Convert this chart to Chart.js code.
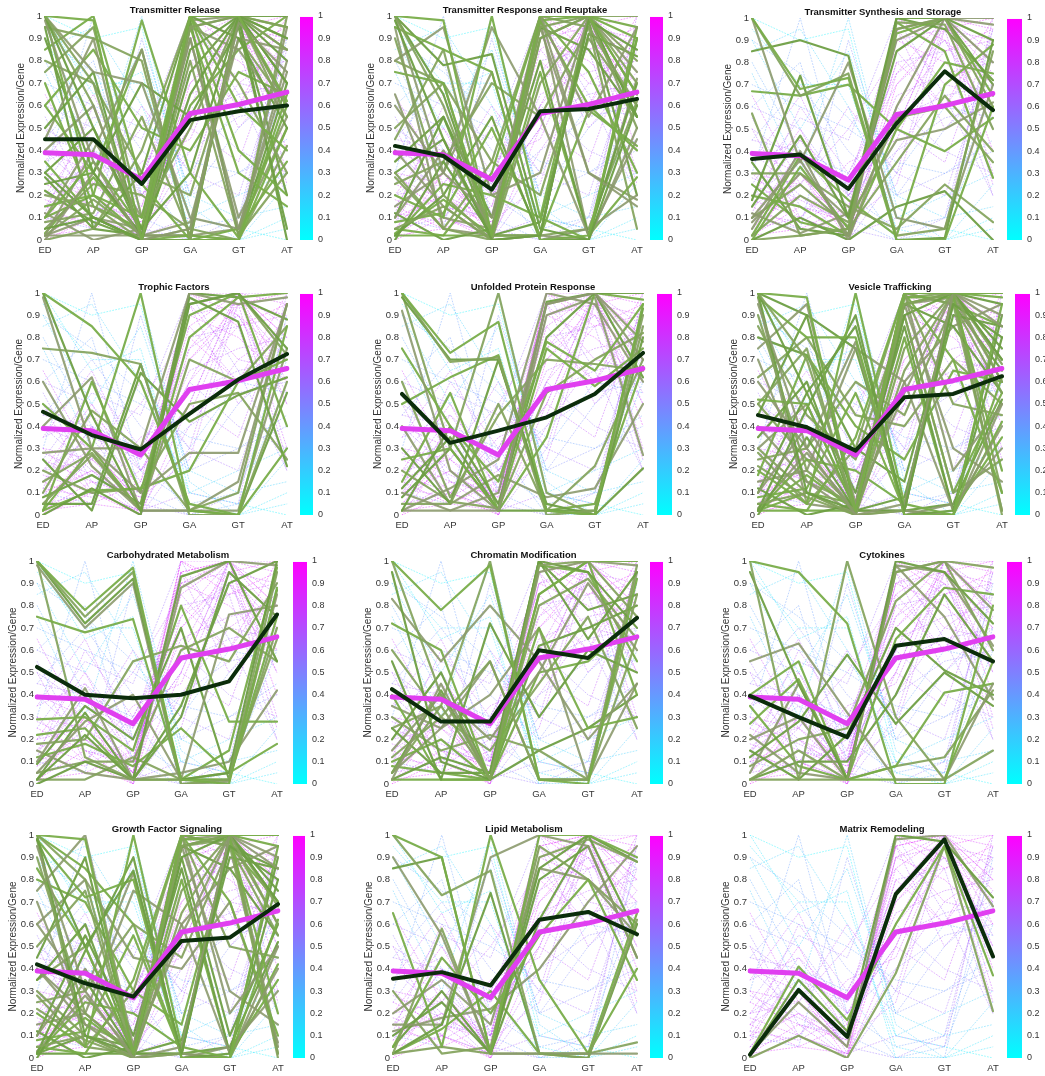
<!DOCTYPE html>
<html>
<head>
<meta charset="utf-8">
<script src="https://cdn.jsdelivr.net/npm/chart.js@4.4.1/dist/chart.umd.min.js"></script>
<style>
  html, body { margin: 0; padding: 0; background: #fff; }
  #page { position: relative; width: 1045px; height: 1076px; overflow: hidden; }
  .panel { position: absolute; }
</style>
</head>
<body>
<div id="page"></div>
<script>
const categories = ['ED', 'AP', 'GP', 'GA', 'GT', 'AT'];
const titles = ['Transmitter Release', 'Transmitter Response and Reuptake', 'Transmitter Synthesis and Storage',
  'Trophic Factors', 'Unfolded Protein Response', 'Vesicle Trafficking',
  'Carbohydrated Metabolism', 'Chromatin Modification', 'Cytokines',
  'Growth Factor Signaling', 'Lipid Metabolism', 'Matrix Remodeling'];

// mean of all genes (same in every panel)
const allGenesMean = [0.39, 0.38, 0.27, 0.565, 0.605, 0.66];

// background profiles (all genes, dotted)
const backgroundGenes = [
  [0.05,0.3,0,0.95,1,0.8], [0.1,0.2,0.05,1,0.9,0.7], [0.2,0.5,0.1,0.85,1,0.95], [0,0.1,0,0.7,0.95,1],
  [0.15,0.05,0.02,0.9,0.8,0.6], [0.3,0.25,0.1,1,1,0.5], [0.08,0.4,0.2,0.6,0.85,0.9], [0.25,0.15,0,0.5,1,0.75],
  [0.4,0.3,0.05,0.95,0.7,0.85], [0.02,0.15,0.08,0.8,0.6,1], [0.12,0.6,0.3,0.75,0.9,0.55], [0.35,0.45,0.15,0.65,0.75,0.8],
  [0.5,0.35,0.25,0.55,0.65,0.7], [0.18,0.1,0.35,0.45,0.95,0.9], [0.05,0.25,0.6,0.3,1,0.85], [0.6,0.5,0.2,0.4,0.55,0.6],
  [0.45,0.7,0.4,0.2,0.5,0.7], [0.7,0.6,0.5,0.35,0.3,0.45], [1,0.65,0.75,0,0,0.1], [0.95,0.7,0.7,0.05,0,0.05],
  [1,0.9,0.95,0.1,0.05,0], [0.9,0.5,0.85,0.2,0.1,0.15], [0.85,0.95,0.6,0.1,0.2,0.3], [0.75,0.3,1,0.15,0,0.25],
  [0.8,0.4,0.3,0,0.05,0.6], [0.6,0.8,0.1,0,0,0.9], [0.3,1,0.2,0.05,0.1,0.7], [0.1,0.05,0.9,0.2,0.3,0.4],
  [0.2,0.35,0.05,0,0.1,0.95], [0.05,0.1,0.02,0.1,0.05,1], [0.4,0.2,0,0.3,0.2,0.85], [0.55,0.15,0.1,0.6,0.4,0.3],
  [0.25,0.55,0.45,1,0.65,0.2], [0.15,0.3,0.1,0.9,0.95,0.25], [0.02,0.05,0.15,0.95,1,0.4], [0.3,0.1,0.02,0.75,1,0.6],
  [0.1,0.4,0.02,0.4,0.7,0.65], [0.2,0.25,0.5,0.85,0.6,0.9], [0.5,0.1,0.3,0.7,0.9,0.5], [0.08,0.2,0.1,0.6,1,0.3],
  [0.65,0.25,0.05,0.9,1,0.8], [0.35,0.65,0.2,0.5,1,1], [0,0.3,0.05,1,0.85,0.95], [0.15,0.45,0.25,0.95,0.5,0.75],
  [0.9,0.75,0.55,0.3,0.6,0.55], [0.12,0.08,0.2,0.5,0.35,0.95], [0.45,0.4,0.12,0.8,0.85,0.2], [0.28,0.18,0.08,0.25,0.95,0.7]
];

const releaseMean = [0.45, 0.45, 0.25, 0.535, 0.575, 0.60];
const releaseGenes = [
  [1,0.98,0,1,1,0.62], [1,0.7,0,0.95,1,0.55], [1,0.5,0.05,0.3,1,0.9], [0.98,0.35,0,0.05,0.97,0.75],
  [1,0.2,0.1,1,0.6,0.4], [0.95,0.9,0.8,0,1,0.95], [0.9,0.3,0.02,0.85,1,0.7], [1,0.75,0.7,0.1,0.05,0.8],
  [0.85,1,0.25,0,0,0.65], [0.75,0.95,0.1,0.5,1,0.85], [0.05,0.1,0,1,0.9,0.5], [0,0.3,0.02,0.95,1,0.6],
  [0.1,0.35,0.05,1,0.4,0.2], [0.2,0.15,0,0.05,0,1], [0.3,0.1,0,0,1,0.8], [0.02,0.4,0.85,0,0,0.95],
  [0.15,0.2,0.98,0.3,0.01,0.6], [0,0.05,0.4,1,0.7,0.3], [0.25,0.3,0.7,0.55,0.95,0.05], [0.1,0.45,0.1,0.9,0.05,0.75],
  [0.35,0.1,0,0.02,0,0.5], [0.05,0.25,0.2,0.05,1,0.9], [0.5,0.75,0,0.65,1,1], [0.12,0,0.05,0.95,0.85,0.55],
  [0.6,0.3,0.85,0,0.05,0.35], [0.02,0.18,0.02,0.8,0.02,0.3], [0.28,0.05,0.3,1,1,0.7], [0.4,0.6,0.02,0.08,0.9,0.85],
  [0.7,0.15,0.05,0.95,0.3,0.15], [0.08,0.12,0.55,0.02,0,0.42], [0.22,0.08,0,0.75,1,0], [0.45,0.9,0.02,0.02,0.05,0.5],
  [0.03,0.28,0.02,0.6,0.85,1], [1,0.6,0.02,0.02,1,0.6], [0.95,0.05,0.02,0.98,0.02,0.7], [0.02,0.02,0.02,0.98,1,0.85],
  [0.1,0.2,0.02,1,1,0.95], [0.8,0.7,0.3,0.2,0.9,0.6], [0.3,0.5,0.02,0.02,0.98,0.2], [0.02,0.1,0.05,0.9,0.1,0.55],
  [0.6,0.85,0.5,0.4,0.75,0.65]
];

const responseMean = [0.42, 0.375, 0.225, 0.575, 0.585, 0.63];
const responseGenes = [
  [1,0.98,0.02,1,1,0.65], [1,0.6,0.03,0.95,1,0.5], [0.98,0.45,0,0.02,0.98,0.85], [1,0.3,0.1,1,0.55,0.95],
  [0.95,0.85,0.75,0,0.02,0.9], [0.9,0.2,0,0.9,1,0.7], [1,0.78,0.83,0.05,0,0.6], [0.8,0.95,0.2,0.3,1,0.75],
  [0.75,0.7,0.02,0.98,0.6,0.4], [0.05,0.15,0,1,0.95,0.6], [0,0.35,0.02,0.9,1,0.55], [0.1,0.4,0.05,1,0.3,0.15],
  [0.2,0.1,1,0.1,0,0.95], [0.3,0.05,0,0.02,1,0.8], [0.02,0.2,0.55,0,0,0.9], [0.15,0.3,0.95,0.55,0.02,0.45],
  [0.05,0.02,0.3,1,0.75,0.3], [0.25,0.35,0.7,0.55,0.95,0.05], [0.1,0.55,0.1,0.8,0.02,0.7], [0.4,0.15,0,0.02,0,0.5],
  [0.02,0.25,0.2,0.1,1,0.95], [0.5,0.7,0,0.7,1,1], [0.12,0,0.05,0.95,0.85,0.55], [0.6,0.3,0.75,0,0.05,0.2],
  [0.03,0.18,0.02,0.75,0.02,0.28], [0.28,0.05,0.35,1,1,0.65], [0.35,0.55,0.02,0.08,0.92,0.82], [0.65,0.1,0.05,0.95,0.3,0.18],
  [0.08,0.12,0.5,0.02,0.58,0.42], [0.45,0.85,0.02,0.02,0.05,0.62], [1,0.65,0.02,0.02,1,0.55], [0.95,0.05,0.02,0.98,0.02,0.72],
  [0.02,0.02,0.02,0.98,1,0.9], [0.8,0.7,0.35,0.2,0.9,0.6], [0.3,0.45,0.02,0.02,0.98,0.2]
];

const synthesisMean = [0.365, 0.385, 0.23, 0.525, 0.76, 0.585];
const synthesisGenes = [
  [1,0.68,0.73,0,0,0.6], [1,0.65,0.75,0.02,0.05,0.85], [0.85,0.9,0.83,0,0.01,0.9], [1,0.35,0.8,0.1,0.05,0.7],
  [0.67,0.65,0.7,0.5,0.4,0.55], [0.57,0.02,0.05,0.95,1,0.6], [0.18,0.74,0.1,1,1,0.7], [0.1,0.36,0.02,0.95,1,0.8],
  [0,0.33,0.05,0.93,1,0.65], [0.02,0.2,0.08,0.98,0.97,0.5], [0.15,0.47,0.1,0.85,1,0.9], [0.05,0.4,0,0.6,1,1],
  [0.2,0.15,0.02,0.5,0.8,0.75], [0.3,0.3,0.15,0.05,0.25,0.08], [0,0.1,0,0.15,0.22,0], [0.12,0.03,0.12,0.9,1,0.97],
  [0.02,0.38,0.18,0.02,0.7,0.88], [0.1,0.25,0.06,0.55,0.6,0.35], [0.35,0.05,0.02,1,0.95,0.72], [0.08,0.3,0.1,0.45,0.5,0.62],
  [0.25,0.08,0.03,0.98,0.85,0.28], [0,0.02,0.05,0.35,0.65,0.4]
];

const trophicMean = [0.465, 0.36, 0.295, 0.455, 0.61, 0.725];
const trophicGenes = [
  [1,0.85,0.6,0.05,0,0.85], [0.75,0.73,0.68,0,0,0.6], [1,0.45,0.02,0.95,1,0.75], [0.98,0.3,0.3,1,0.95,0.98],
  [0.5,0.3,1,0.02,0,0.3], [0.05,0.27,0.02,0.95,1,0.72], [0,0.12,0,0.98,0.87,0.22], [0.28,0.3,0.1,0.28,0.28,0.95],
  [0.02,0.11,0.12,0.2,0.6,0.7], [0.1,0.47,0.3,0.02,0.1,0.95], [0.25,0.02,0.64,0.42,0.54,0.62], [0.6,0.22,0.02,0.02,0.15,0.95],
  [0.02,0.6,0.1,0.9,1,0.4], [0.15,0.28,0.02,0.7,0.6,0.85], [0.05,0.05,0.68,0.02,0,0.55], [0.4,0.62,0.02,0.02,0.02,0.75],
  [0.02,0.3,0.02,0.8,0.98,1], [0.2,0.1,0.12,0.5,0.55,0.25], [0.08,0.18,0.05,1,0.98,0.88]
];

const unfoldedMean = [0.545, 0.325, 0.38, 0.44, 0.545, 0.73];
const unfoldedGenes = [
  [1,0.73,0.87,0.02,0,0.95], [1,0.69,0.71,0,0.02,0.9], [0.98,0.7,0.7,0.05,0,0.8], [0.92,0.2,0.02,0.95,1,0.7],
  [0.75,0.4,0.15,0.78,0.65,0.95], [1,0.3,1,0.1,0,0.85], [0.02,0.4,0.05,0.8,1,1], [0.1,0.02,0.1,0.95,1,0.78],
  [0.25,0.3,0.02,0.75,0.58,0.75], [0.05,0.05,0.5,0.02,0.22,0.7], [0.3,0.05,0.7,0.02,0,0.21], [0.02,0.12,0.25,1,0.95,0.6],
  [0.15,0.55,0.02,0.35,1,0.97], [0.6,0.08,0.45,0.7,0.68,0.65], [0.08,0.3,0.02,0.02,0.02,0.93], [0.02,0.02,0.02,0.9,0.98,0.27],
  [0.5,0.62,0.72,0.02,0.05,0.67], [0.2,0.06,0.03,0.55,0.7,0.82], [0.12,0.35,0.02,0.96,1,0.62], [0.4,0.05,0.18,0.08,0.12,0.5]
];

const vesicleMean = [0.45, 0.395, 0.29, 0.53, 0.545, 0.625];
const vesicleGenes = [
  [1,0.98,0.02,1,1,0.98], [1,0.7,0.02,0.95,1,0.6], [1,0.55,0.85,0.02,0.95,0.8], [0.95,0.3,0,0.05,1,0.9],
  [0.98,0.8,0.8,0,0,0.62], [0.9,0.2,0.02,1,0.5,0.45], [1,0.1,0.02,0.9,1,0.7], [0.75,0.95,0.05,0.55,1,0.85],
  [0.52,0.5,0.02,0.98,0.98,0.2], [0.05,0.1,0,1,0.95,0.55], [0,0.35,0.02,0.95,1,0.75], [0.1,0.4,0.05,1,0.2,0.5],
  [0.2,0.05,1,0.05,0,0.95], [0.3,0.1,0,0.02,1,0.68], [0.02,0.48,0.9,0,0.02,0.9], [0.15,0.2,0.75,0.6,0.02,0.4],
  [0.05,0.02,0.35,1,0.7,0.1], [0.25,0.3,0.6,0.45,0.95,0.02], [0.1,0.55,0.1,0.85,0.02,0.8], [0.4,0.15,0,0.02,0,0.5],
  [0.02,0.25,0.2,0.05,1,1], [0.5,0.75,0,0.65,1,1], [0.12,0,0.05,0.95,0.85,0.55], [0.6,0.3,0.78,0,0.05,0.3],
  [0.02,0.18,0.02,0.8,0.02,0.35], [0.28,0.05,0.3,1,1,0.7], [0.35,0.6,0.02,0.08,0.9,0.85], [0.7,0.15,0.05,0.95,0.3,0.15],
  [0.08,0.12,0.55,0.02,0,0.42], [0.22,0.08,0,0.75,1,0], [0.45,0.9,0.02,0.02,0.05,0.52], [0.03,0.28,0.02,0.6,0.85,0.95],
  [0.18,0.72,0.4,0.25,0.65,0.6], [0.85,0.45,0.25,0.9,0.1,0.25], [1,0.9,0.75,0.02,1,0.95], [0.98,0.05,0.02,0.95,0.98,0.6],
  [0.02,0.02,0.02,1,0.95,0.85], [0.5,0.25,0.02,0.98,1,0.1], [0.8,0.72,0.3,0.15,0.95,0.65], [0.3,0.5,0.02,0.02,0.98,0.02],
  [0.02,0.1,0.05,0.9,0.1,0.55], [0.62,0.8,0.45,0.4,0.7,0.5]
];

const carbMean = [0.525, 0.40, 0.385, 0.40, 0.46, 0.76];
const carbGenes = [
  [1,0.78,0.97,0.02,0,0.88], [1,0.75,0.95,0,0.02,0.95], [1,0.72,0.92,0.02,0.05,1], [0.98,0.7,0.9,0,0.01,0.85],
  [0.75,0.68,0.74,0.02,0.02,0.75], [1,0.12,0.02,0.02,0.05,0.65], [0.02,0.22,0.02,0.93,1,0.55], [0.1,0.43,0.02,0.88,1,0.98],
  [0.29,0.3,0.15,0.8,0.28,0.28], [0.18,0.2,0.55,0.62,0.55,0.9], [0,0.1,0.02,0.35,0.9,1], [0.05,0.28,0.4,0.02,0.76,0.8],
  [0.12,0.18,0.08,0.25,0.05,0.18], [0.02,0.02,0.12,0.02,0.02,0.7], [0.09,0.35,0.2,0.7,0.02,0.87], [0.15,0.05,0.02,0.05,0.1,0.42],
  [0.22,0.25,0.02,0.02,0.15,0.97], [0.05,0.1,0.1,0.6,0.7,0.55], [0.02,0.32,0.02,0.3,0.95,0.75]
];

const chromatinMean = [0.425, 0.28, 0.28, 0.60, 0.565, 0.745];
const chromatinGenes = [
  [1,0.78,0.98,0.02,0,0.92], [1,0.4,0.02,0.98,1,0.75], [0.95,0.1,0.02,1,0.95,0.7], [0.83,0.55,0.8,0.55,0.2,0.45],
  [0.72,0.6,0.02,0.85,1,1], [0.6,0.3,0.55,0.02,0.02,0.85], [0.55,0.02,0.72,0.3,0.6,0.5], [0.02,0.45,0.02,0.95,1,0.98],
  [0.1,0.2,0.02,0.7,0.25,0.3], [0.05,0.35,1,0.02,0.02,0.65], [0.25,0.05,0.05,1,0.65,0.95], [0.15,0.4,0.2,0.5,0.9,0.6],
  [0.02,0.02,0.02,0.85,1,0.4], [0.3,0.15,0.22,0.15,0.02,0.98], [0.2,0.5,0.02,0.62,0.7,0.8], [0.05,0.25,0.55,0.02,0.02,0.95],
  [0.4,0.02,0.02,0.98,0.95,0.55], [0.12,0.3,0.15,0.45,0.75,0.25], [0.02,0.12,0.05,1,0.78,0.85], [0.35,0.25,0.4,0.7,0.02,0.45],
  [0.08,0.05,0.02,0.5,0.55,0.75], [0.25,0.35,0.02,0.8,0.92,0.65], [0.05,0.42,0.02,0.15,0.25,0.4]
];

const cytokineMean = [0.395, 0.30, 0.21, 0.62, 0.65, 0.55];
const cytokineGenes = [
  [1,0.95,0.72,0,0,0.8], [1,0.02,0.02,0.95,1,0.6], [0.95,0.45,0.02,1,0.95,0.72], [0.55,0.63,0.32,0.02,0.02,0.45],
  [0.4,0.55,0.02,0.08,0.41,0.45], [0.02,0.02,1,0.3,0.02,0.15], [0.12,0.28,0.58,0.27,0.5,0.35], [0.05,0.45,0.02,0.95,1,0.78],
  [0.27,0.47,0.02,0.65,0.88,0.85], [0.02,0.15,0.02,0.08,0.12,0.42], [0.15,0.02,0.22,0.7,0.51,0.4], [0.2,0.3,0.02,0.98,0.95,0.62],
  [0.35,0.08,0.02,0.02,0.02,0.55], [0.08,0.2,0.25,0.82,1,0.97], [0.02,0.1,0.1,0.4,0.85,0.55], [0.22,0.05,0.02,0.98,0.75,0.38]
];

const growthMean = [0.42, 0.335, 0.275, 0.525, 0.54, 0.69];
const growthGenes = [
  [1,0.98,0.02,1,1,1], [1,0.8,0.02,0.95,1,0.6], [0.98,0.5,0.84,0.02,0.95,0.8], [0.95,0.3,0,0.05,1,0.9],
  [0.98,0.72,0.8,0,0,0.62], [0.9,0.2,0.02,1,0.5,0.45], [1,0.1,0.02,0.9,1,0.7], [0.75,1,0.05,0.55,1,0.85],
  [0.85,0.5,0.02,0.98,0.98,0.2], [0.05,0.1,0,1,0.95,0.55], [0,0.35,0.02,0.95,1,0.75], [0.1,0.4,0.05,1,0.2,0.5],
  [0.2,0.05,1,0.05,0,0.95], [0.3,0.1,0,0.02,1,0.68], [0.02,0.48,0.9,0,0.02,0.9], [0.15,0.2,0.75,0.6,0.02,0.4],
  [0.05,0.02,0.35,1,0.7,0.1], [0.25,0.3,0.6,0.45,0.95,0.02], [0.1,0.55,0.1,0.85,0.02,0.8], [0.4,0.15,0,0.02,0,0.5],
  [0.02,0.25,0.2,0.05,1,1], [0.5,0.75,0,0.65,1,1], [0.12,0,0.05,0.95,0.85,0.55], [0.6,0.3,0.83,0,0.05,0.3],
  [0.02,0.18,0.02,0.8,0.02,0.35], [0.28,0.05,0.3,1,1,0.7], [0.35,0.6,0.02,0.08,0.9,0.85], [0.7,0.15,0.05,0.95,0.3,0.15],
  [0.08,0.12,0.55,0.02,0,0.42], [0.22,0.08,0,0.75,1,0], [0.45,0.9,0.02,0.02,0.05,0.52], [0.03,0.28,0.02,0.6,0.85,0.95],
  [1,0.85,0.6,0.02,1,0.95], [0.98,0.05,0.02,0.95,0.98,0.6], [0.02,0.02,0.02,1,0.95,0.85], [0.4,0.2,0.02,0.98,1,0.05],
  [0.8,0.7,0.3,0.15,0.95,0.7], [0.35,0.5,0.02,0.02,0.98,0.02], [0.02,0.1,0.05,0.9,0.1,0.6], [0.6,0.8,0.45,0.4,0.7,0.07]
];

const lipidMean = [0.355, 0.385, 0.325, 0.62, 0.655, 0.555];
const lipidGenes = [
  [1,0.9,0.02,1,1,0.9], [1,0.73,0.84,0.02,0,0.62], [0.85,0.9,0.02,0.85,1,0.55], [0.9,0.55,0.02,0.02,0.02,0.02],
  [0.65,0.05,1,0.35,0.02,0.4], [0.02,0.58,0.02,0.9,0.98,0.88], [0.02,0.15,0.74,0.02,0,0.6], [0.15,0.15,0.9,1,0.95,0.45],
  [0.05,0.45,0.2,0.55,0.8,0.35], [0.02,0.05,0.02,0.02,0.02,0.07], [0.1,0.25,0.02,0.62,1,0.88], [0.2,0.35,0.15,0.85,0.8,0.55],
  [0.02,0.13,0.3,0.02,0.02,0.65], [0.3,0.02,0.05,0.95,0.8,0.6], [0.05,0.3,0.02,0.8,0.95,0.45], [0.12,0.18,0.22,0.4,0.7,0.95]
];

const matrixMean = [0.015, 0.305, 0.095, 0.735, 0.98, 0.455];
const matrixGenes = [
  [0.02,0.41,0.17,0.6,0.95,0.37], [0,0.1,0,0.38,0.95,0.21], [0.01,0.35,0.12,1,0.97,0.72], [0.02,0.25,0.05,0.98,1,0.68]
];

// plot box per panel: [left, right, top, bottom, colorbarLeft, colorbarRight]
const panels = [
  { title: titles[0],  mean: releaseMean,   genes: releaseGenes,   box: [45, 287, 15, 240, 300, 313] },
  { title: titles[1],  mean: responseMean,  genes: responseGenes,  box: [395, 637, 15, 240, 650, 663] },
  { title: titles[2],  mean: synthesisMean, genes: synthesisGenes, box: [752, 993, 17, 240, 1007, 1022] },
  { title: titles[3],  mean: trophicMean,   genes: trophicGenes,   box: [43, 287, 292, 515, 300, 313] },
  { title: titles[4],  mean: unfoldedMean,  genes: unfoldedGenes,  box: [402, 643, 292, 515, 657, 672] },
  { title: titles[5],  mean: vesicleMean,   genes: vesicleGenes,   box: [758, 1002, 292, 515, 1015, 1030] },
  { title: titles[6],  mean: carbMean,      genes: carbGenes,      box: [37, 277, 560, 784, 293, 307] },
  { title: titles[7],  mean: chromatinMean, genes: chromatinGenes, box: [392, 637, 560, 784, 650, 663] },
  { title: titles[8],  mean: cytokineMean,  genes: cytokineGenes,  box: [750, 993, 560, 784, 1007, 1022] },
  { title: titles[9],  mean: growthMean,    genes: growthGenes,    box: [37, 278, 834, 1058, 293, 305] },
  { title: titles[10], mean: lipidMean,     genes: lipidGenes,     box: [393, 637, 834, 1058, 650, 663] },
  { title: titles[11], mean: matrixMean,    genes: matrixGenes,    box: [750, 993, 834, 1058, 1007, 1022] }
];

const FONT = "'Liberation Sans', Arial, Helvetica, sans-serif";
const TEXT = '#333333';
const greens = ['rgba(121,173,74,0.95)', 'rgba(131,163,92,0.92)', 'rgba(111,159,69,0.95)', 'rgba(140,154,110,0.9)'];
const fmt = v => String(Number(v.toFixed(1)));

// MATLAB "cool" colormap
function cool(c, a) {
  c = Math.max(0, Math.min(1, c));
  return `rgba(${Math.round(255 * c)},${Math.round(255 * (1 - c))},255,${a})`;
}

const colorbarPlugin = {
  id: 'colorbar',
  beforeDatasetsDraw(chart, args, opts) {
    const s = chart.scales.cb;
    const ctx = chart.ctx;
    const g = ctx.createLinearGradient(0, s.bottom, 0, s.top);
    g.addColorStop(0, 'rgb(0,255,255)');
    g.addColorStop(1, 'rgb(255,0,255)');
    ctx.save();
    ctx.fillStyle = g;
    ctx.fillRect(s.left + opts.gap, s.top + 1, opts.width, s.bottom - s.top - 1);
    ctx.restore();
  }
};

const page = document.getElementById('page');

panels.forEach(p => {
  const [l, r, t, b, cl, cr] = p.box;
  const yW = 30, titleH = 14, xH = 20;
  const cbW = cr - r + 22;
  const div = document.createElement('div');
  div.className = 'panel';
  div.style.left = (l - yW) + 'px';
  div.style.top = (t - titleH) + 'px';
  div.style.width = (yW + (r - l) + cbW) + 'px';
  div.style.height = (titleH + (b - t) + xH) + 'px';
  const canvas = document.createElement('canvas');
  div.appendChild(canvas);
  page.appendChild(div);

  const datasets = [];
  datasets.push({ data: p.mean, borderColor: '#0b2c0b', borderWidth: 4 });
  datasets.push({ data: allGenesMean, borderColor: '#e03ff0', borderWidth: 5 });
  p.genes.forEach((g, i) => {
    datasets.push({ data: g, borderColor: greens[i % greens.length], borderWidth: 2.2 });
  });
  backgroundGenes.forEach(g => {
    const early = (g[0] + g[1] + g[2]) / 3, late = (g[3] + g[4] + g[5]) / 3;
    datasets.push({
      data: g, borderColor: cool((late - early + 1) / 2, 0.4),
      borderWidth: 1, borderDash: [1, 2]
    });
  });

  new Chart(canvas, {
    type: 'line',
    data: { labels: categories, datasets: datasets },
    plugins: [colorbarPlugin],
    options: {
      responsive: true,
      maintainAspectRatio: false,
      animation: false,
      events: [],
      layout: { padding: 0 },
      elements: { point: { radius: 0 }, line: { tension: 0, borderCapStyle: 'round', borderJoinStyle: 'round' } },
      plugins: {
        legend: { display: false },
        tooltip: { enabled: false },
        title: {
          display: true, text: p.title, color: '#111',
          font: { family: FONT, size: 9.5, weight: 'bold', lineHeight: 1.26 },
          padding: { top: 3, bottom: 0 }
        },
        colorbar: { gap: cl - r, width: cr - cl }
      },
      scales: {
        x: {
          grid: { display: false, drawTicks: false }, border: { display: false },
          ticks: { color: TEXT, font: { family: FONT, size: 9.5 }, padding: 5, maxRotation: 0, autoSkip: false },
          afterFit: s => { s.height = xH; }
        },
        y: {
          min: 0, max: 1,
          grid: { display: false, drawTicks: false }, border: { display: false },
          ticks: { stepSize: 0.1, color: TEXT, font: { family: FONT, size: 9.5 }, padding: 3, callback: fmt },
          title: { display: true, text: 'Normalized Expression/Gene', color: TEXT,
                   font: { family: FONT, size: 10 }, padding: 0 },
          afterFit: s => { s.width = yW; }
        },
        cb: {
          position: 'right', min: 0, max: 1,
          grid: { display: false, drawTicks: true, tickLength: (cr - r) + 3 }, border: { display: false },
          ticks: { stepSize: 0.1, color: TEXT, font: { family: FONT, size: 9 }, padding: 2, callback: fmt },
          afterFit: s => { s.width = cbW; }
        }
      }
    }
  });
});
</script>
</body>
</html>
